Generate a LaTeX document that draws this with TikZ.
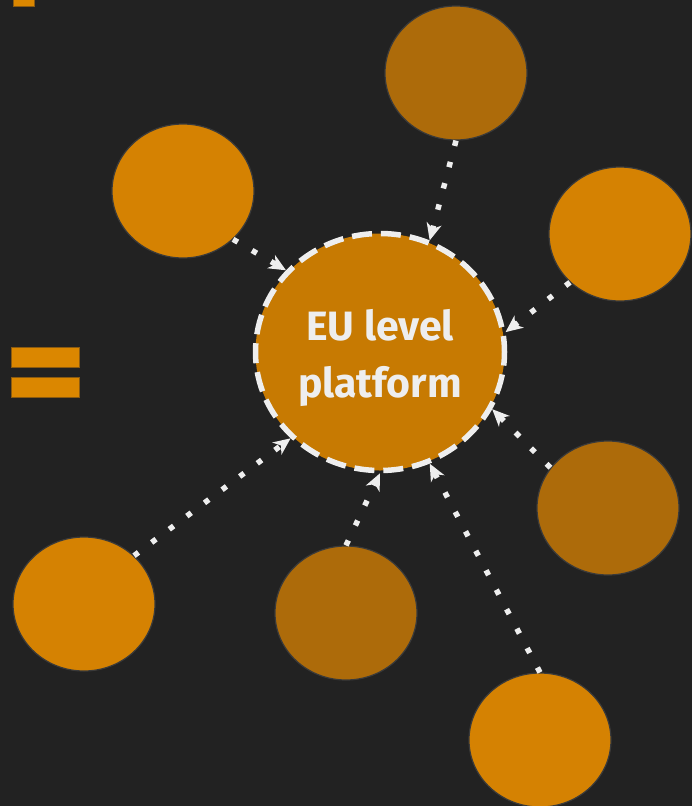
\documentclass[tikz,border=0pt]{standalone}
\usepackage{fontspec}
\setmainfont{Fira Sans}
\usetikzlibrary{shapes.geometric,arrows.meta}
\definecolor{bg}{HTML}{222222}
\definecolor{hub}{HTML}{C77A02}
\definecolor{bright}{HTML}{D58202}
\definecolor{darkor}{HTML}{AD6B0A}
\definecolor{bar}{HTML}{DB8700}
\definecolor{bared}{HTML}{8A5A10}
\definecolor{rim}{HTML}{3A3A3A}
\definecolor{txt}{HTML}{EEEEEE}
\tikzset{
  sat/.style={ellipse, minimum width=142pt, minimum height=134pt, inner sep=0pt, draw=rim, line width=1.2pt},
  satb/.style={sat, fill=bright},
  satd/.style={sat, fill=darkor},
  hubnode/.style={ellipse, minimum width=249pt, minimum height=237pt, inner sep=0pt, fill=hub, draw=txt, line width=5.5pt, dash pattern=on 20pt off 9pt, dash phase=4pt, align=center, text=txt, font=\fontsize{41}{59}\selectfont\bfseries, text depth=0pt},
  link/.style={draw=txt, line width=5.5pt, dash pattern=on 5.5pt off 16.5pt, -{Stealth[length=17pt,width=15pt,inset=5pt,fill=txt]}},
  barbox/.style={fill=bar, draw=bared, line width=0.8pt}
}
\begin{document}
\begin{tikzpicture}[x=1pt,y=-1pt]
\fill[bg] (0,0) rectangle (692,806);
\useasboundingbox (0,0) rectangle (692,806);
\path[barbox] (13,-3) rectangle (34,6);
\path[barbox] (11,347) rectangle (79,367);
\path[barbox] (11,377) rectangle (79,397);
\node[hubnode] (hub) at (380,352) {\raisebox{-4pt}{EU level}\\\raisebox{-2pt}{platform}};
\node[satd] (s1) at (456,73) {};
\node[satb] (s2) at (183,191) {};
\node[satb] (s3) at (620,234) {};
\node[satd] (s4) at (608,508) {};
\node[satb] (s5) at (84,604) {};
\node[satd] (s6) at (346,613) {};
\node[satb] (s7) at (540,740) {};
\draw[link] (s1.270) -- (hub.66);
\draw[link] (s2.316) -- (hub.139);
\draw[link] (s3.224) -- (hub.9);
\draw[link] (s4.145) -- (hub.-27);
\draw[link] (s5.44) -- (hub.224);
\draw[link] (s6.90) -- (hub.270);
\draw[link] (s7.90) -- (hub.294);
\end{tikzpicture}
\end{document}
